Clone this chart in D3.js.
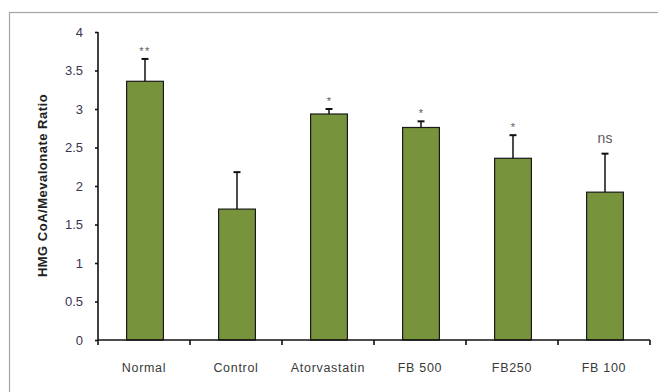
<!DOCTYPE html>
<html><head><meta charset="utf-8">
<script src="https://cdn.jsdelivr.net/npm/d3@7"></script>
<style>
html,body{margin:0;padding:0;background:#fff;}
svg{display:block;}
</style></head>
<body>
<svg id="chart" width="658" height="392"></svg>
<script>
const categories = ["Normal","Control","Atorvastatin","FB500","FB250","FB100"];
const categoryLabels = ["Normal","Control","Atorvastatin","FB 500","FB250","FB 100"];
const values = [3.36, 1.70, 2.935, 2.76, 2.36, 1.92];
const errors = [0.29, 0.48, 0.065, 0.08, 0.30, 0.50];
const significance = ["**","","*","*","*","ns"];
const yTicks = [0,0.5,1,1.5,2,2.5,3,3.5,4];
const yLabel = "HMG CoA/Mevalonate Ratio";

const svg = d3.select("#chart");
const x0 = 98, x1 = 650, yTop = 32, yBot = 340;
const font = "Liberation Sans, Arial, sans-serif";

// outer frame
svg.append("rect").attr("x",9.5).attr("y",12.5).attr("width",700).attr("height",420)
  .attr("fill","none").attr("stroke","#a3a3a3").attr("stroke-width",1.2);

const xb = d3.scaleBand().domain(categories).range([x0,x1]);
const barW = xb.bandwidth()*0.4;
const cx = d => xb(d) + xb.bandwidth()/2 + 1;
const y = d3.scaleLinear().domain([0,4]).range([yBot,yTop]);

const fill = "#77933C";

// bars
svg.append("g").selectAll("rect").data(categories).join("rect")
  .attr("x",d=>cx(d)-barW/2).attr("width",barW)
  .attr("y",(d,i)=>y(values[i])).attr("height",(d,i)=>y(0)-y(values[i]))
  .attr("fill",fill).attr("stroke","#1a1a1a").attr("stroke-width",1.2);

// error bars
const eg = svg.append("g").attr("stroke","#111").attr("stroke-width",1.5);
categories.forEach((c,i)=>{
  const px = cx(c);
  eg.append("line").attr("x1",px).attr("x2",px).attr("y1",y(values[i])).attr("y2",y(values[i]+errors[i]));
  eg.append("line").attr("x1",px-3.5).attr("x2",px+3.5).attr("y1",y(values[i]+errors[i])).attr("y2",y(values[i]+errors[i])).attr("stroke-width",2);
});

// significance labels
svg.append("g").selectAll("text").data(categories).join("text")
  .attr("x",d=>cx(d))
  .attr("y",(d,i)=>y(values[i]+errors[i]) - (significance[i]==="ns"?11:4))
  .attr("text-anchor","middle")
  .attr("font-family",font)
  .attr("font-size",(d,i)=>significance[i]==="ns"?"14px":"11px")
  .attr("letter-spacing",(d,i)=>significance[i]==="**"?"1.5px":"0px")
  .attr("fill","#5a5a5a")
  .text((d,i)=>significance[i]);

// y axis
const yAxis = d3.axisLeft(y).tickValues(yTicks).tickSize(3).tickPadding(12)
  .tickFormat(d=>String(d));
const ya = svg.append("g").attr("transform",`translate(${x0},0)`).call(yAxis);
ya.select(".domain").attr("stroke","#111").attr("stroke-width",1.6).attr("d",`M0,${yTop}V${yBot}`);
ya.selectAll(".tick line").attr("stroke","#111").attr("stroke-width",1.6);
ya.selectAll(".tick text").attr("font-family",font)
  .attr("font-size","13px").attr("fill","#3a3550");

// x axis
const xa = svg.append("g").attr("transform",`translate(0,${yBot})`);
xa.append("line").attr("x1",x0).attr("x2",x1).attr("y1",0).attr("y2",0).attr("stroke","#111").attr("stroke-width",1.6);
const bounds = categories.map(c=>xb(c)).concat([x1]);
xa.selectAll("line.tk").data(bounds).join("line").attr("class","tk")
  .attr("x1",d=>d).attr("x2",d=>d).attr("y1",0).attr("y2",5).attr("stroke","#111").attr("stroke-width",1.6);
xa.selectAll("text").data(categories).join("text")
  .attr("x",d=>xb(d)+xb.bandwidth()/2).attr("y",32)
  .attr("text-anchor","middle")
  .attr("font-family",font)
  .attr("font-size","12.5px").attr("letter-spacing","0.7px").attr("fill","#3a3a3a")
  .text((d,i)=>categoryLabels[i]);

// y label
svg.append("text")
  .attr("transform",`translate(47,${(82+289)/2}) rotate(-90)`)
  .attr("text-anchor","middle")
  .attr("font-family",font)
  .attr("font-weight","bold").attr("font-size","13px").attr("letter-spacing","0.5px").attr("fill","#222")
  .text(yLabel);
</script>
</body></html>
